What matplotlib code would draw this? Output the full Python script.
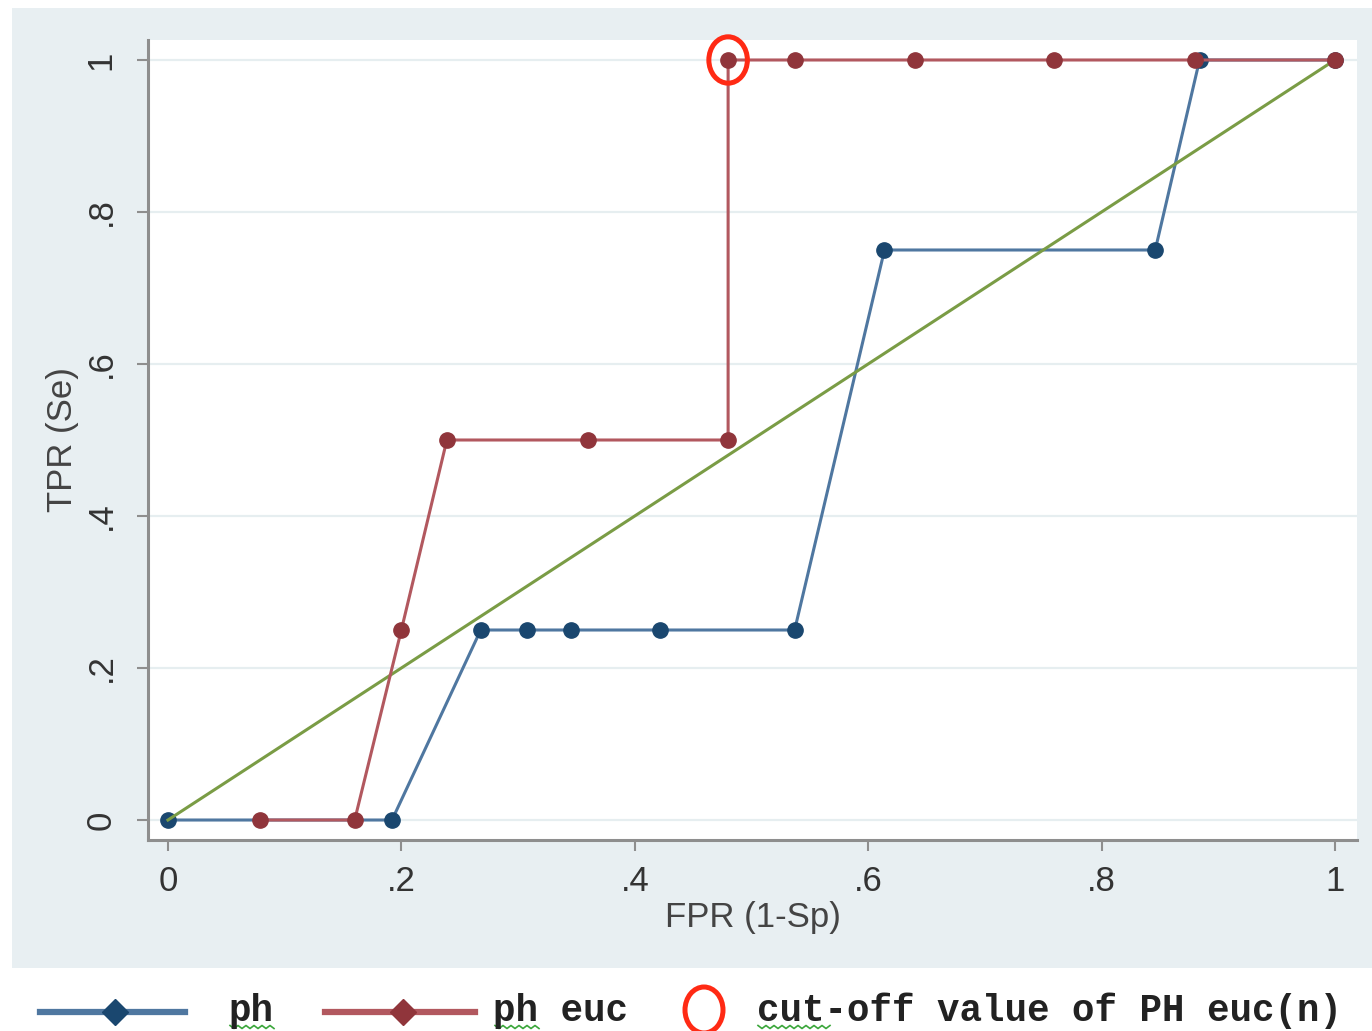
import matplotlib

matplotlib.use("Agg")

import numpy as np  # noqa: E402
import matplotlib.pyplot as plt  # noqa: E402
from matplotlib.lines import Line2D  # noqa: E402
from matplotlib.patches import Ellipse, Rectangle  # noqa: E402

plt.rcParams["font.family"] = ["Liberation Sans", "DejaVu Sans"]

# ---------------------------------------------------------------- data
PH_FPR = [0.0, 0.192, 0.268, 0.308, 0.345, 0.422, 0.537, 0.614, 0.846, 0.884, 1.0]
PH_TPR = [0.0, 0.0, 0.25, 0.25, 0.25, 0.25, 0.25, 0.75, 0.75, 1.0, 1.0]

EUC_FPR = [0.079, 0.160, 0.200, 0.239, 0.360, 0.480, 0.480, 0.537, 0.640, 0.759, 0.880, 1.0]
EUC_TPR = [0.0, 0.0, 0.25, 0.5, 0.5, 0.5, 1.0, 1.0, 1.0, 1.0, 1.0, 1.0]

REF_X = [0.0, 1.0]
REF_Y = [0.0, 1.0]

CUTOFF_X, CUTOFF_Y = 0.480, 1.0

TICKS = [0, 0.2, 0.4, 0.6, 0.8, 1.0]
TICK_LABELS = ["0", ".2", ".4", ".6", ".8", "1"]

LEGEND_LABELS = ["ph", "ph euc", "cut-off value of PH euc(n)"]

# ---------------------------------------------------------------- palette
NAVY, NAVY_L = "#1a476f", "#4f77a0"
MAROON, MAROON_L = "#90353b", "#b2585f"
GREEN = "#7a9c45"
RING = "#ff2a14"
BG = "#e8eff2"
GRID = "#e6eef0"
AXIS = "#8e8e8e"

W, H = 1372, 1031
fig = plt.figure(figsize=(W / 100, H / 100), dpi=100, facecolor="white")

# pixel-space overlay for the grey panel and the legend
bg = fig.add_axes([0, 0, 1, 1], zorder=0)
bg.set_xlim(0, W)
bg.set_ylim(H, 0)
bg.axis("off")
bg.add_patch(Rectangle((12, 8), W - 12, 960, facecolor=BG, edgecolor="none"))

# ---------------------------------------------------------------- main plot
ax = fig.add_axes([148 / W, 1 - 840 / H, (1357 - 148) / W, (840 - 40) / H], zorder=1)
ax.set_facecolor("white")
ax.set_xlim(-0.0171, 1.0189)
ax.set_ylim(-0.0263, 1.0263)

for s in ("top", "right"):
    ax.spines[s].set_visible(False)
for s in ("left", "bottom"):
    ax.spines[s].set_color(AXIS)
    ax.spines[s].set_linewidth(2.2)

ax.set_xticks(TICKS, TICK_LABELS)
ax.set_yticks(TICKS, TICK_LABELS)
ax.tick_params(axis="both", colors=AXIS, labelcolor="#333333", labelsize=25, length=8, width=1.5)
ax.tick_params(axis="x", pad=10)
ax.tick_params(axis="y", pad=14, labelrotation=90)
for lab in ax.get_yticklabels():
    lab.set_va("center")
ax.yaxis.grid(True, color=GRID, lw=1.6)
ax.set_axisbelow(True)

ax.set_xlabel("FPR (1-Sp)", fontsize=25, color="#444444", labelpad=2)
ax.set_ylabel("TPR (Se)", fontsize=25, color="#444444", labelpad=4)

ax.plot(PH_FPR, PH_TPR, color=NAVY_L, lw=2.2, zorder=3)
ax.plot(PH_FPR, PH_TPR, "o", color=NAVY, ms=11, zorder=4)
ax.plot(REF_X, REF_Y, color=GREEN, lw=2.2, zorder=5)
ax.plot(EUC_FPR, EUC_TPR, color=MAROON_L, lw=2.2, zorder=6)
ax.plot(EUC_FPR, EUC_TPR, "o", color=MAROON, ms=11, zorder=7)
ax.add_patch(
    Ellipse((CUTOFF_X, CUTOFF_Y), 0.033, 0.061, facecolor="none", edgecolor=RING, lw=3.6, zorder=8, clip_on=False)
)

# ---------------------------------------------------------------- legend
LY = 1012
mono = dict(family="Liberation Mono", fontweight="bold", fontsize=27, color="#222222", va="baseline")
bg.add_line(Line2D([40, 185], [LY, LY], color=NAVY_L, lw=4.5))
bg.add_line(Line2D([115], [LY], marker="D", ms=13, color=NAVY))
bg.text(228, 1021, LEGEND_LABELS[0], **mono)
bg.add_line(Line2D([325, 475], [LY, LY], color=MAROON_L, lw=4.5))
bg.add_line(Line2D([403], [LY], marker="D", ms=13, color=MAROON))
bg.text(493, 1021, LEGEND_LABELS[1], **mono)
bg.add_patch(Ellipse((704, 1010), 38, 46, facecolor="none", edgecolor=RING, lw=3.6))
bg.text(757, 1021, LEGEND_LABELS[2], **mono)

# spell-check squiggles under the legend words
for x0, x1 in ((230, 275), (495, 540), (758, 830)):
    xs = np.arange(x0, x1 + 1, 4)
    ys = 1027 + np.where(np.arange(len(xs)) % 2 == 0, -1.5, 1.5)
    bg.add_line(Line2D(xs, ys, color="#3aa63a", lw=1.2))

fig.savefig("out.png", dpi=100, facecolor="white")
